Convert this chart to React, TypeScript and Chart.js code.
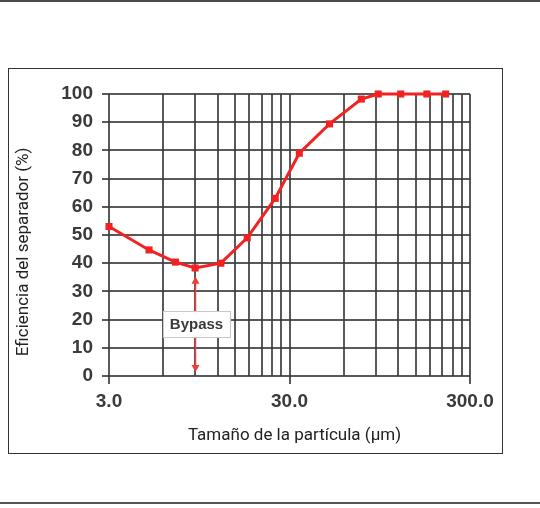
import React, { useEffect, useRef } from 'react';
import { Chart, registerables } from 'chart.js';

Chart.register(...registerables);

// ---- data ----
const particleSizes = [3, 5, 7, 9, 12.5, 17.5, 25, 34, 50, 75, 93, 124, 173, 220];
const efficiency = [53, 44.7, 40.4, 38.3, 40, 49, 63, 79, 89.4, 98.2, 100, 100, 100, 100];
const xGridValues = [3, 6, 9, 12, 15, 18, 21, 24, 27, 30, 60, 90, 120, 150, 180, 210, 240, 270, 300];
const xLabelValues = [3, 30, 300];
const yMin = 0;
const yMax = 100;
const yStep = 10;
const xTitle = 'Tamaño de la partícula (µm)';
const yTitle = 'Eficiencia del separador (%)';
const bypassLabel = 'Bypass';
const bypassX = 9;
const bypassFrom = 35.2;
const bypassTo = 1.4;
const bypassLabelY = 18.4;

const RED = '#f22222';
const GRID = 'rgba(60,60,60,0.85)';

const bypassPlugin = {
  id: 'bypassAndTitles',
  afterDatasetsDraw(chart: any) {
    const { ctx, scales } = chart;
    const x = scales.x;
    const y = scales.y;
    const px = Math.round(x.getPixelForValue(bypassX)) + 0.5;
    const yTop = y.getPixelForValue(bypassFrom);
    const yBot = y.getPixelForValue(bypassTo);
    const yLab = y.getPixelForValue(bypassLabelY);
    ctx.save();
    ctx.strokeStyle = '#ee3b3b';
    ctx.fillStyle = '#ee3b3b';
    ctx.lineWidth = 1.5;
    ctx.beginPath();
    ctx.moveTo(px, yTop + 4);
    ctx.lineTo(px, yBot - 4);
    ctx.stroke();
    ctx.beginPath();
    ctx.moveTo(px, yTop);
    ctx.lineTo(px - 4, yTop + 7);
    ctx.lineTo(px + 4, yTop + 7);
    ctx.closePath();
    ctx.fill();
    ctx.beginPath();
    ctx.moveTo(px, yBot);
    ctx.lineTo(px - 4, yBot - 7);
    ctx.lineTo(px + 4, yBot - 7);
    ctx.closePath();
    ctx.fill();
    const bw = 67;
    const bh = 26;
    const bx = px + 1 - bw / 2;
    const by = yLab - bh / 2;
    ctx.fillStyle = '#ffffff';
    ctx.fillRect(bx, by, bw, bh);
    ctx.strokeStyle = '#c8c8c8';
    ctx.lineWidth = 1;
    ctx.strokeRect(Math.round(bx) + 0.5, Math.round(by) + 0.5, bw, bh);
    ctx.fillStyle = '#3a3a3a';
    ctx.font = 'bold 15px "Liberation Sans", Arial, sans-serif';
    ctx.textAlign = 'center';
    ctx.textBaseline = 'middle';
    ctx.fillText(bypassLabel, px + 1, yLab + 1);
    ctx.restore();
  },
  afterDraw(chart: any) {
    const { ctx, chartArea } = chart;
    ctx.save();
    ctx.fillStyle = '#222222';
    ctx.font = '17px Roboto, sans-serif';
    ctx.textAlign = 'center';
    ctx.textBaseline = 'middle';
    ctx.fillText(xTitle, (chartArea.left + chartArea.right) / 2 + 5, chartArea.bottom + 60);
    ctx.translate(14, (chartArea.top + chartArea.bottom) / 2 + 17);
    ctx.rotate(-Math.PI / 2);
    ctx.fillText(yTitle, 0, 0);
    ctx.restore();
  },
};

export default function App() {
  const canvasRef = useRef<HTMLCanvasElement | null>(null);

  useEffect(() => {
    if (!canvasRef.current) return;
    const chart = new Chart(canvasRef.current, {
      type: 'line',
      data: {
        datasets: [
          {
            data: particleSizes.map((s, i) => ({ x: s, y: efficiency[i] })),
            borderColor: RED,
            backgroundColor: RED,
            borderWidth: 3,
            pointStyle: 'rect',
            pointRadius: 5,
            pointBorderWidth: 0,
            pointBackgroundColor: RED,
            tension: 0,
            clip: false as any,
          },
        ],
      },
      options: {
        responsive: false,
        animation: false,
        layout: { padding: { top: 24, right: 30, left: 0, bottom: 0 } },
        plugins: {
          legend: { display: false },
          tooltip: { enabled: false },
          title: { display: false },
        },
        scales: {
          x: {
            type: 'logarithmic',
            min: 3,
            max: 300,
            afterBuildTicks: (scale: any) => {
              scale.ticks = xGridValues.map((v) => ({ value: v }));
            },
            afterFit: (scale: any) => {
              scale.height = 75;
            },
            grid: {
              color: GRID,
              lineWidth: 2,
              tickLength: 8,
              tickColor: (ctx: any) =>
                ctx.tick && xLabelValues.includes(ctx.tick.value) ? GRID : 'rgba(0,0,0,0)',
            },
            border: { display: false },
            ticks: {
              autoSkip: false,
              maxRotation: 0,
              padding: 6,
              color: '#3a3a3a',
              font: { family: '"Liberation Sans", Arial, sans-serif', size: 19, weight: 'bold' },
              callback: (value: any) =>
                xLabelValues.includes(Number(value)) ? Number(value).toFixed(1) : '',
            },
          },
          y: {
            type: 'linear',
            min: yMin,
            max: yMax,
            afterFit: (scale: any) => {
              scale.width = 99;
            },
            grid: {
              color: GRID,
              lineWidth: 2,
              tickLength: 7,
            },
            border: { display: false },
            ticks: {
              stepSize: yStep,
              padding: 9,
              color: '#3a3a3a',
              font: { family: '"Liberation Sans", Arial, sans-serif', size: 19, weight: 'bold' },
            },
          },
        },
      },
      plugins: [bypassPlugin],
    });
    return () => chart.destroy();
  }, []);

  return (
    <div
      style={{
        position: 'fixed',
        left: 0,
        top: 0,
        width: 540,
        height: 508,
        background: '#ffffff',
        overflow: 'hidden',
      }}
    >
      <div style={{ position: 'absolute', left: 0, top: 0, width: 540, height: 2, background: '#4a4a4a' }} />
      <div style={{ position: 'absolute', left: 0, top: 502, width: 540, height: 2, background: '#555555' }} />
      <div
        style={{
          position: 'absolute',
          left: 8,
          top: 68,
          width: 495,
          height: 386,
          border: '1.5px solid #333333',
          boxSizing: 'border-box',
        }}
      />
      <canvas
        ref={canvasRef}
        width={490}
        height={381}
        style={{ position: 'absolute', left: 10, top: 70, width: 490, height: 381, display: 'block' }}
      />
    </div>
  );
}
